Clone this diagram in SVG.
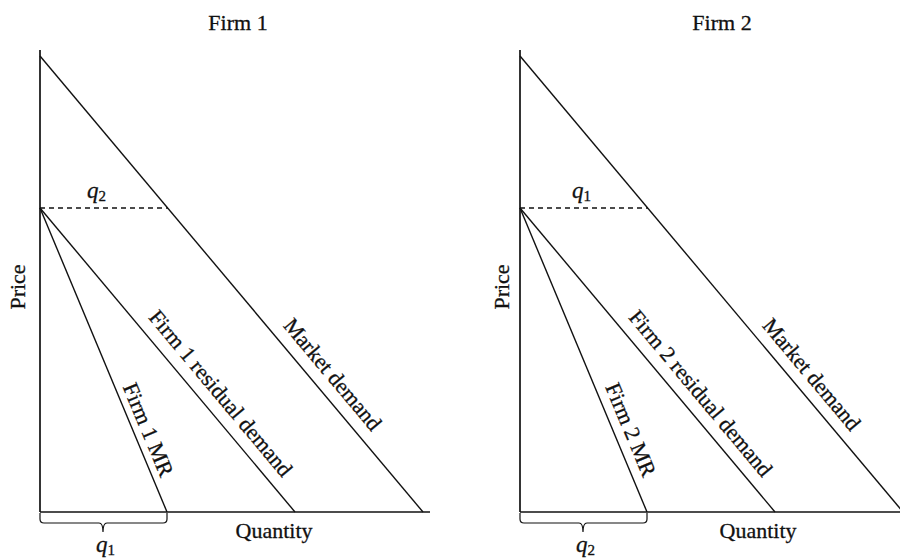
<svg xmlns="http://www.w3.org/2000/svg" width="900" height="558" viewBox="0 0 900 558">
<style>
text{font-family:"Liberation Serif","Times New Roman",serif;font-size:22px;fill:#111;stroke:#111;stroke-width:0.3}
.it{font-style:italic;font-size:23px}
.sub{font-size:15px;font-style:normal}
.ax{stroke:#111;stroke-width:1.7;fill:none}
.ln{stroke:#111;stroke-width:1.4;fill:none}
.dash{stroke:#111;stroke-width:1.4;stroke-dasharray:5 4;fill:none}
.br{stroke:#111;stroke-width:1.2;fill:none}
</style>
<rect width="900" height="558" fill="#fff"/>
<g id="firm1">
  <text x="238" y="30" text-anchor="middle">Firm 1</text>
  <g id="axes1" class="connectors">
    <line class="ax" x1="40" y1="50" x2="40" y2="512"/>
    <line class="ax" x1="40" y1="512" x2="430" y2="512"/>
  </g>
  <line class="ln" x1="40" y1="56" x2="423" y2="512"/>
  <line class="dash" x1="40" y1="208" x2="168" y2="208"/>
  <line class="ln" x1="40" y1="208" x2="295" y2="512"/>
  <line class="ln" x1="40" y1="208" x2="167" y2="512"/>
  <text x="87" y="198" class="it">q<tspan class="sub" dy="3">2</tspan></text>
  <text transform="translate(25,287) rotate(-90)" text-anchor="middle" font-size="23">Price</text>
  <text x="274" y="538" text-anchor="middle">Quantity</text>
  <text transform="translate(141.5,432.5) rotate(67.3)" text-anchor="middle">Firm 1 MR</text>
  <text transform="translate(215,398) rotate(50)" text-anchor="middle">Firm 1 residual demand</text>
  <text transform="translate(327,379) rotate(50)" text-anchor="middle">Market demand</text>
  <path class="br" d="M40,513 L40,519 Q40,523 44,523 L99,523 Q103,523 103,532 Q103,523 107,523 L163,523 Q167,523 167,519 L167,513"/>
  <text x="96" y="552" class="it">q<tspan class="sub" dy="3">1</tspan></text>
</g>
<g id="firm2">
  <text x="722" y="30" text-anchor="middle">Firm 2</text>
  <g id="axes2" class="connectors">
    <line class="ax" x1="520" y1="50" x2="520" y2="512"/>
    <line class="ax" x1="520" y1="512" x2="900" y2="512"/>
  </g>
  <line class="ln" x1="520" y1="56" x2="903" y2="512"/>
  <line class="dash" x1="520" y1="208" x2="648" y2="208"/>
  <line class="ln" x1="520" y1="208" x2="775" y2="512"/>
  <line class="ln" x1="520" y1="208" x2="647" y2="512"/>
  <text x="572" y="198" class="it">q<tspan class="sub" dy="3">1</tspan></text>
  <text transform="translate(509,287) rotate(-90)" text-anchor="middle" font-size="23">Price</text>
  <text x="758" y="538" text-anchor="middle">Quantity</text>
  <text transform="translate(624,432.5) rotate(67.3)" text-anchor="middle">Firm 2 MR</text>
  <text transform="translate(695,398) rotate(50)" text-anchor="middle">Firm 2 residual demand</text>
  <text transform="translate(806,379) rotate(50)" text-anchor="middle">Market demand</text>
  <path class="br" d="M520,513 L520,519 Q520,523 524,523 L579,523 Q583,523 583,532 Q583,523 587,523 L643,523 Q647,523 647,519 L647,513"/>
  <text x="576" y="552" class="it">q<tspan class="sub" dy="3">2</tspan></text>
</g>
</svg>
